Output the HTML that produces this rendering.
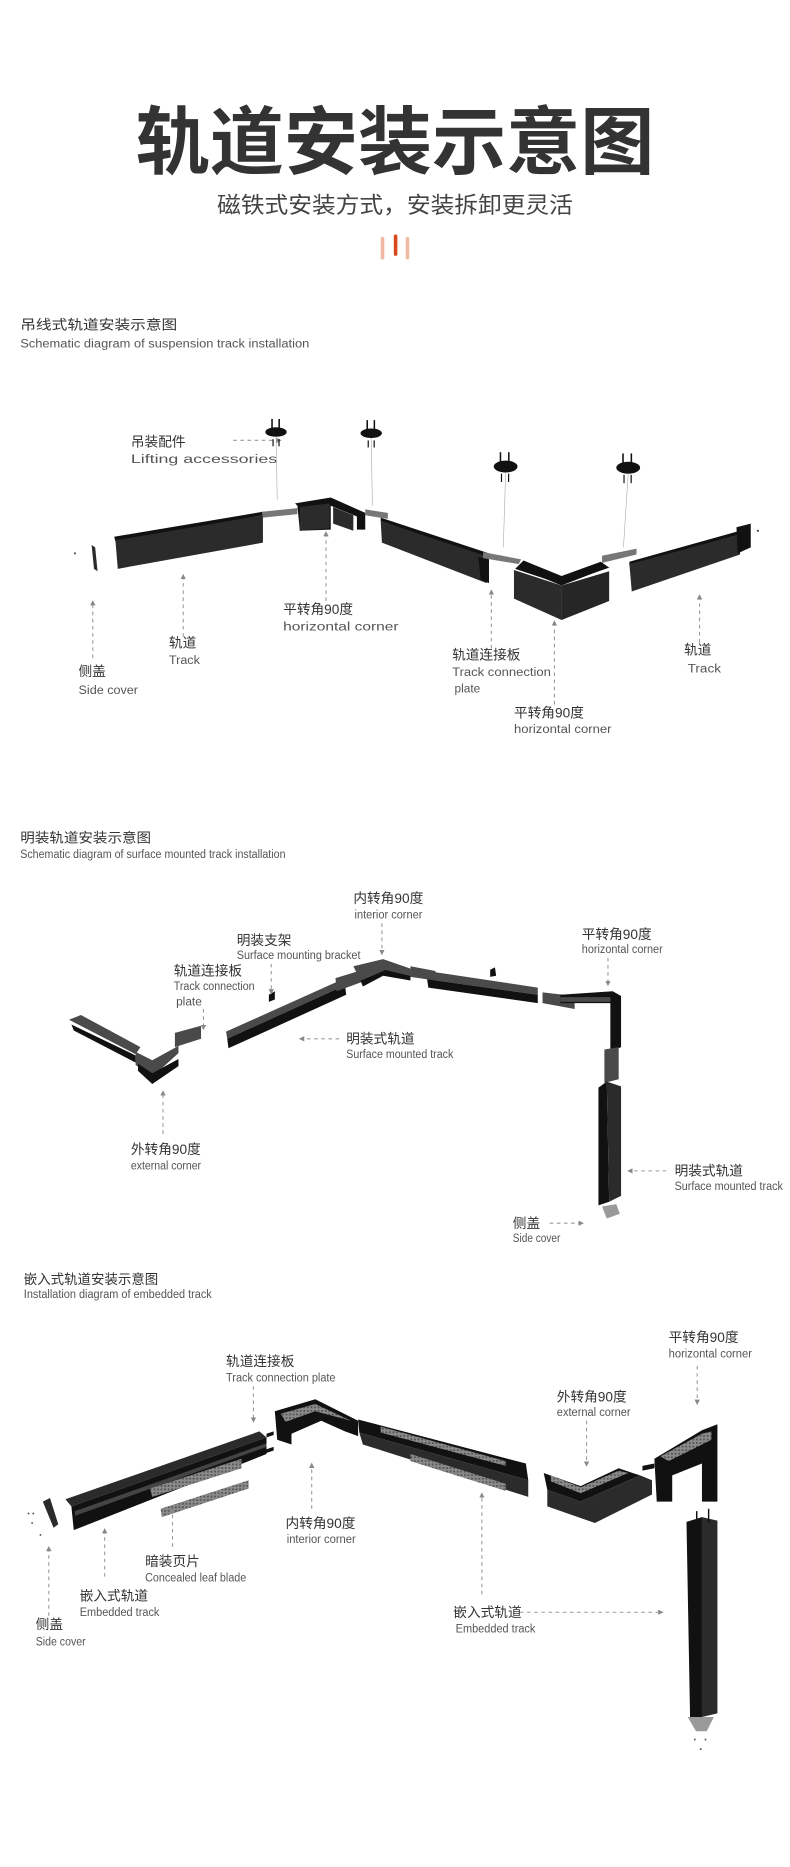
<!DOCTYPE html>
<html><head><meta charset="utf-8"><style>
html,body{margin:0;padding:0;background:#fff}
svg{display:block}
.cn{font-family:"Liberation Sans","Noto Sans CJK SC",sans-serif;fill:#333;font-size:11.5px}
.en{font-family:"Liberation Sans","Noto Sans CJK SC",sans-serif;fill:#555;font-size:10px}
.ar{stroke:#999;stroke-width:0.9;stroke-dasharray:3 3;fill:none}
.b{fill:#2b2b2b}.d{fill:#111}.g{fill:#777}.l{fill:#9a9a9a}.m{fill:#4a4a4a}
</style></head><body>
<svg width="790" height="1867" viewBox="0 0 664 1569" xmlns="http://www.w3.org/2000/svg">
<defs>
<marker id="ah" viewBox="0 0 6 6" refX="5" refY="3" markerWidth="5" markerHeight="5" orient="auto"><path d="M0,0L6,3L0,6z" fill="#888"/></marker>
<pattern id="hp" width="3" height="3" patternUnits="userSpaceOnUse"><rect width="3" height="3" fill="#8a8a8a"/><rect width="1.5" height="1.5" fill="#555"/></pattern>
</defs>
<rect width="664" height="1569" fill="#fff"/>
<text x="332" y="141" text-anchor="middle" style="font-family:'Liberation Sans','Noto Sans CJK SC',sans-serif;font-weight:bold;font-size:62px;fill:#333" textLength="436" lengthAdjust="spacingAndGlyphs">轨道安装示意图</text>
<text x="332" y="179" text-anchor="middle" style="font-family:'Liberation Sans','Noto Sans CJK SC',sans-serif;font-size:19px;fill:#444" textLength="299" lengthAdjust="spacingAndGlyphs">磁铁式安装方式，安装拆卸更灵活</text>
<rect x="320" y="199" width="3" height="19" rx="1.5" fill="#f0b9a4"/>
<rect x="331" y="197" width="3" height="18" rx="1.5" fill="#d9481d"/>
<rect x="341" y="199" width="3" height="19" rx="1.5" fill="#f0b9a4"/>

<!-- Section 1 -->
<text class="cn" x="17" y="277" textLength="132" lengthAdjust="spacingAndGlyphs">吊线式轨道安装示意图</text>
<text class="en" x="17" y="292" textLength="243" lengthAdjust="spacingAndGlyphs">Schematic diagram of suspension track installation</text>

<text class="cn" x="110" y="375">吊装配件</text>
<text class="en" x="110" y="389" textLength="123" lengthAdjust="spacingAndGlyphs">Lifting accessories</text>
<line class="ar" x1="196" y1="370" x2="236" y2="370" marker-end="url(#ah)"/>
<g>
<ellipse cx="232" cy="363" rx="9" ry="4" class="d"/><rect x="228" y="352" width="1.3" height="8" class="d"/><rect x="234" y="352" width="1.3" height="8" class="d"/><rect x="229" y="369" width="1" height="6" class="d"/><rect x="234" y="369" width="1" height="6" class="d"/><line x1="232" y1="367" x2="233" y2="420" stroke="#aaa" stroke-width="0.5"/>
<ellipse cx="312" cy="364" rx="9" ry="4" class="d"/><rect x="308" y="353" width="1.3" height="8" class="d"/><rect x="314" y="353" width="1.3" height="8" class="d"/><rect x="309" y="370" width="1" height="6" class="d"/><rect x="314" y="370" width="1" height="6" class="d"/><line x1="312" y1="368" x2="313" y2="425" stroke="#aaa" stroke-width="0.5"/>
<ellipse cx="425" cy="392" rx="10" ry="5" class="d"/><rect x="420" y="380" width="1.3" height="9" class="d"/><rect x="427" y="380" width="1.3" height="9" class="d"/><rect x="421" y="398" width="1" height="7" class="d"/><rect x="427" y="398" width="1" height="7" class="d"/><line x1="425" y1="397" x2="423" y2="460" stroke="#aaa" stroke-width="0.5"/>
<ellipse cx="528" cy="393" rx="10" ry="5" class="d"/><rect x="523" y="381" width="1.3" height="9" class="d"/><rect x="530" y="381" width="1.3" height="9" class="d"/><rect x="524" y="399" width="1" height="7" class="d"/><rect x="530" y="399" width="1" height="7" class="d"/><line x1="528" y1="398" x2="524" y2="460" stroke="#aaa" stroke-width="0.5"/>
</g>
<circle cx="63" cy="465" r="0.9" fill="#555"/>
<polygon points="77,458 80,460 82,480 79,478" class="b"/>
<polygon points="96,451 221,430 221,433 97,455" class="d"/>
<polygon points="97,454 221,433 221,456 99,478" class="b"/>
<polygon points="220,430 250,427 250,432 221,435" class="g"/>
<polygon points="248,423 278,418 307,431 307,445 300,445 300,434 278,425 278,445 252,446 250,425" class="d"/>
<polygon points="252,426 277,423 277,444 252,446" class="b"/>
<polygon points="280,426 297,433 297,446 280,440" class="b"/>
<polygon points="307,428 326,431 326,436 307,433" class="g"/>
<polygon points="320,435 411,465 411,469 320,438" class="d"/>
<polygon points="320,438 411,468 409,490 321,456" class="b"/>
<polygon points="402,468 411,470 411,490 404,487" class="d"/>
<polygon points="406,464 438,470 436,474 406,469" class="g"/>
<polygon points="433,476 472,490 505,478 513,476 472,492" class="d"/>
<polygon points="432,479 472,492 472,521 432,503" class="b"/>
<polygon points="472,492 512,480 512,505 472,521" fill="#262626"/>
<polygon points="440,471 472,484 505,472 512,477 472,491 433,478" class="d"/>
<polygon points="506,467 535,461 535,466 506,473" class="g"/>
<polygon points="529,472 622,446 622,449 529,475" class="d"/>
<polygon points="529,474 622,449 622,466 531,497" class="b"/>
<polygon points="619,443 631,440 631,460 620,465" class="d"/>
<circle cx="637" cy="446" r="0.9" fill="#333"/>

<text class="cn" x="66" y="568">侧盖</text><text class="en" x="66" y="583" textLength="50" lengthAdjust="spacingAndGlyphs">Side cover</text>
<line class="ar" x1="78" y1="553" x2="78" y2="505" marker-end="url(#ah)"/>
<text class="cn" x="142" y="544">轨道</text><text class="en" x="142" y="558" textLength="26" lengthAdjust="spacingAndGlyphs">Track</text>
<line class="ar" x1="154" y1="535" x2="154" y2="483" marker-end="url(#ah)"/>
<text class="cn" x="238" y="516">平转角90度</text><text class="en" x="238" y="530" textLength="97" lengthAdjust="spacingAndGlyphs">horizontal corner</text>
<line class="ar" x1="274" y1="505" x2="274" y2="447" marker-end="url(#ah)"/>
<text class="cn" x="380" y="554">轨道连接板</text><text class="en" x="380" y="568" textLength="83" lengthAdjust="spacingAndGlyphs">Track connection</text><text class="en" x="382" y="582">plate</text>
<line class="ar" x1="413" y1="545" x2="413" y2="496" marker-end="url(#ah)"/>
<text class="cn" x="432" y="603">平转角90度</text><text class="en" x="432" y="616" textLength="82" lengthAdjust="spacingAndGlyphs">horizontal corner</text>
<line class="ar" x1="466" y1="592" x2="466" y2="522" marker-end="url(#ah)"/>
<text class="cn" x="575" y="550">轨道</text><text class="en" x="578" y="565" textLength="28" lengthAdjust="spacingAndGlyphs">Track</text>
<line class="ar" x1="588" y1="540" x2="588" y2="500" marker-end="url(#ah)"/>

<!-- Section 2 -->
<text class="cn" x="17" y="708" font-size="10" textLength="110" lengthAdjust="spacingAndGlyphs">明装轨道安装示意图</text>
<text class="en" x="17" y="721" textLength="223" lengthAdjust="spacingAndGlyphs">Schematic diagram of surface mounted track installation</text>

<polygon points="58,857 68,853 118,880 114,886" class="m"/>
<polygon points="60,861 114,887 114,893 62,866" class="d"/>
<polygon points="114,884 128,891 150,879 150,885 128,905 114,895" class="m"/>
<polygon points="116,894 128,902 150,890 150,896 128,911 116,900" class="d"/>
<polygon points="147,868 169,862 169,873 147,880" class="m"/>
<polygon points="190,867 288,823 290,828 191,873" class="m"/>
<polygon points="191,873 290,828 291,836 192,881" class="d"/>
<polygon points="282,822 305,815 305,825 283,833" class="m"/>
<polygon points="297,812 322,806 345,814 345,820 324,815 303,824" class="m"/>
<polygon points="303,824 324,815 345,820 345,824 322,820 305,829" class="d"/>
<polygon points="345,812 366,816 366,824 345,821" class="m"/>
<polygon points="359,816 452,830 452,836 359,823" class="m"/>
<polygon points="359,823 452,836 452,843 360,830" class="d"/>
<polygon points="456,834 483,837 483,848 456,843" class="m"/>
<polygon points="471,836 515,833 522,837 522,880 513,884 513,843 471,843" class="d"/>
<polygon points="471,838 513,838 513,842 471,842" class="m"/>
<polygon points="508,882 520,880 520,907 508,910" class="m"/>
<polygon points="503,914 510,909 512,1010 503,1013" class="d"/>
<polygon points="510,909 522,913 522,1005 512,1010" class="b"/>
<polygon points="506,1014 518,1012 521,1020 510,1024" class="l"/>
<polygon points="226,836 231,833 231,840 226,842" class="d"/>
<polygon points="412,815 416,813 417,820 412,821" class="d"/>

<text class="cn" x="297" y="759">内转角90度</text><text class="en" x="298" y="772" textLength="57" lengthAdjust="spacingAndGlyphs">interior corner</text>
<line class="ar" x1="321" y1="776" x2="321" y2="802" marker-end="url(#ah)"/>
<text class="cn" x="199" y="794">明装支架</text><text class="en" x="199" y="806" textLength="104" lengthAdjust="spacingAndGlyphs">Surface mounting bracket</text>
<line class="ar" x1="228" y1="810" x2="228" y2="835" marker-end="url(#ah)"/>
<text class="cn" x="146" y="820">轨道连接板</text><text class="en" x="146" y="832" textLength="68" lengthAdjust="spacingAndGlyphs">Track connection</text><text class="en" x="148" y="845">plate</text>
<line class="ar" x1="171" y1="848" x2="171" y2="865" marker-end="url(#ah)"/>
<text class="cn" x="489" y="789">平转角90度</text><text class="en" x="489" y="801" textLength="68" lengthAdjust="spacingAndGlyphs">horizontal corner</text>
<line class="ar" x1="511" y1="805" x2="511" y2="828" marker-end="url(#ah)"/>
<text class="cn" x="291" y="877">明装式轨道</text><text class="en" x="291" y="889" textLength="90" lengthAdjust="spacingAndGlyphs">Surface mounted track</text>
<line class="ar" x1="285" y1="873" x2="252" y2="873" marker-end="url(#ah)"/>
<text class="cn" x="110" y="970">外转角90度</text><text class="en" x="110" y="983" textLength="59" lengthAdjust="spacingAndGlyphs">external corner</text>
<line class="ar" x1="137" y1="953" x2="137" y2="917" marker-end="url(#ah)"/>
<text class="cn" x="567" y="988">明装式轨道</text><text class="en" x="567" y="1000" textLength="91" lengthAdjust="spacingAndGlyphs">Surface mounted track</text>
<line class="ar" x1="560" y1="984" x2="528" y2="984" marker-end="url(#ah)"/>
<text class="cn" x="431" y="1032">侧盖</text><text class="en" x="431" y="1044" textLength="40" lengthAdjust="spacingAndGlyphs">Side cover</text>
<line class="ar" x1="462" y1="1028" x2="490" y2="1028" marker-end="url(#ah)"/>

<!-- Section 3 -->
<text class="cn" x="20" y="1079" font-size="10" textLength="113" lengthAdjust="spacingAndGlyphs">嵌入式轨道安装示意图</text>
<text class="en" x="20" y="1091" textLength="158" lengthAdjust="spacingAndGlyphs">Installation diagram of embedded track</text>

<circle cx="24" cy="1272" r="0.8" fill="#555"/><circle cx="28" cy="1272" r="0.8" fill="#555"/><circle cx="27" cy="1280" r="0.8" fill="#555"/><circle cx="34" cy="1290" r="0.8" fill="#555"/>
<polygon points="36,1262 42,1259 49,1281 45,1284" class="b"/>
<polygon points="55,1260 218,1203 224,1208 60,1266" class="b"/>
<polygon points="60,1266 224,1208 224,1222 62,1286" class="d"/>
<polygon points="63,1270 224,1213 224,1216 63,1274" fill="#444"/>
<polygon points="126,1251 203,1226 203,1234 128,1258" fill="url(#hp)"/>
<polygon points="135,1268 209,1244 209,1251 136,1275" fill="url(#hp)"/>
<polygon points="224,1205 230,1203 230,1206 224,1208" class="d"/>
<polygon points="224,1218 230,1216 230,1219 224,1221" class="d"/>
<polygon points="231,1186 265,1176 301,1194 301,1207 290,1203 270,1194 245,1205 245,1214 233,1210" class="d"/>
<polygon points="236,1188 265,1180 295,1194 265,1186 240,1195" fill="url(#hp)"/>
<polygon points="301,1193 442,1230 444,1244 302,1204" class="d"/>
<polygon points="302,1204 444,1244 444,1258 305,1214" class="b"/>
<polygon points="320,1199 425,1228 425,1232 320,1204" fill="url(#hp)"/>
<polygon points="345,1222 425,1247 425,1253 345,1228" fill="url(#hp)"/>
<polygon points="457,1238 488,1249 520,1234 538,1240 488,1262 460,1252" class="d"/>
<polygon points="463,1240 488,1250 520,1236 528,1238 488,1255 463,1245" fill="url(#hp)"/>
<polygon points="460,1252 488,1262 538,1240 548,1244 548,1256 500,1280 460,1266" class="b"/>
<polygon points="540,1232 550,1230 550,1234 540,1236" class="d"/>
<polygon points="550,1226 590,1202 603,1197 603,1262 590,1262 590,1230 565,1240 565,1262 552,1262" class="d"/>
<polygon points="555,1224 590,1205 598,1203 598,1210 562,1228" fill="url(#hp)"/>
<polygon points="577,1279 590,1275 590,1443 580,1443" class="d"/>
<polygon points="590,1275 603,1278 603,1440 590,1443" class="b"/>
<rect x="585" y="1270" width="1.2" height="10" class="d"/><rect x="595" y="1268" width="1.2" height="12" class="d"/>
<polygon points="578,1443 600,1443 594,1455 585,1455" class="l"/>
<circle cx="584" cy="1462" r="0.8" fill="#555"/><circle cx="593" cy="1462" r="0.8" fill="#555"/><circle cx="589" cy="1470" r="0.8" fill="#555"/>

<text class="cn" x="190" y="1148">轨道连接板</text><text class="en" x="190" y="1161" textLength="92" lengthAdjust="spacingAndGlyphs">Track connection plate</text>
<line class="ar" x1="213" y1="1165" x2="213" y2="1195" marker-end="url(#ah)"/>
<text class="cn" x="562" y="1128">平转角90度</text><text class="en" x="562" y="1141" textLength="70" lengthAdjust="spacingAndGlyphs">horizontal corner</text>
<line class="ar" x1="586" y1="1148" x2="586" y2="1180" marker-end="url(#ah)"/>
<text class="cn" x="468" y="1178">外转角90度</text><text class="en" x="468" y="1190" textLength="62" lengthAdjust="spacingAndGlyphs">external corner</text>
<line class="ar" x1="493" y1="1194" x2="493" y2="1232" marker-end="url(#ah)"/>
<text class="cn" x="240" y="1284">内转角90度</text><text class="en" x="241" y="1297" textLength="58" lengthAdjust="spacingAndGlyphs">interior corner</text>
<line class="ar" x1="262" y1="1268" x2="262" y2="1230" marker-end="url(#ah)"/>
<text class="cn" x="122" y="1316">暗装页片</text><text class="en" x="122" y="1329" textLength="85" lengthAdjust="spacingAndGlyphs">Concealed leaf blade</text>
<line class="ar" x1="145" y1="1300" x2="145" y2="1268" marker-end="url(#ah)"/>
<text class="cn" x="67" y="1345">嵌入式轨道</text><text class="en" x="67" y="1358" textLength="67" lengthAdjust="spacingAndGlyphs">Embedded track</text>
<line class="ar" x1="88" y1="1325" x2="88" y2="1285" marker-end="url(#ah)"/>
<text class="cn" x="30" y="1369">侧盖</text><text class="en" x="30" y="1383" textLength="42" lengthAdjust="spacingAndGlyphs">Side cover</text>
<line class="ar" x1="41" y1="1358" x2="41" y2="1300" marker-end="url(#ah)"/>
<text class="cn" x="381" y="1359">嵌入式轨道</text><text class="en" x="383" y="1372" textLength="67" lengthAdjust="spacingAndGlyphs">Embedded track</text>
<line class="ar" x1="405" y1="1340" x2="405" y2="1255" marker-end="url(#ah)"/>
<line class="ar" x1="437" y1="1355" x2="557" y2="1355" marker-end="url(#ah)"/>
</svg>
</body></html>
